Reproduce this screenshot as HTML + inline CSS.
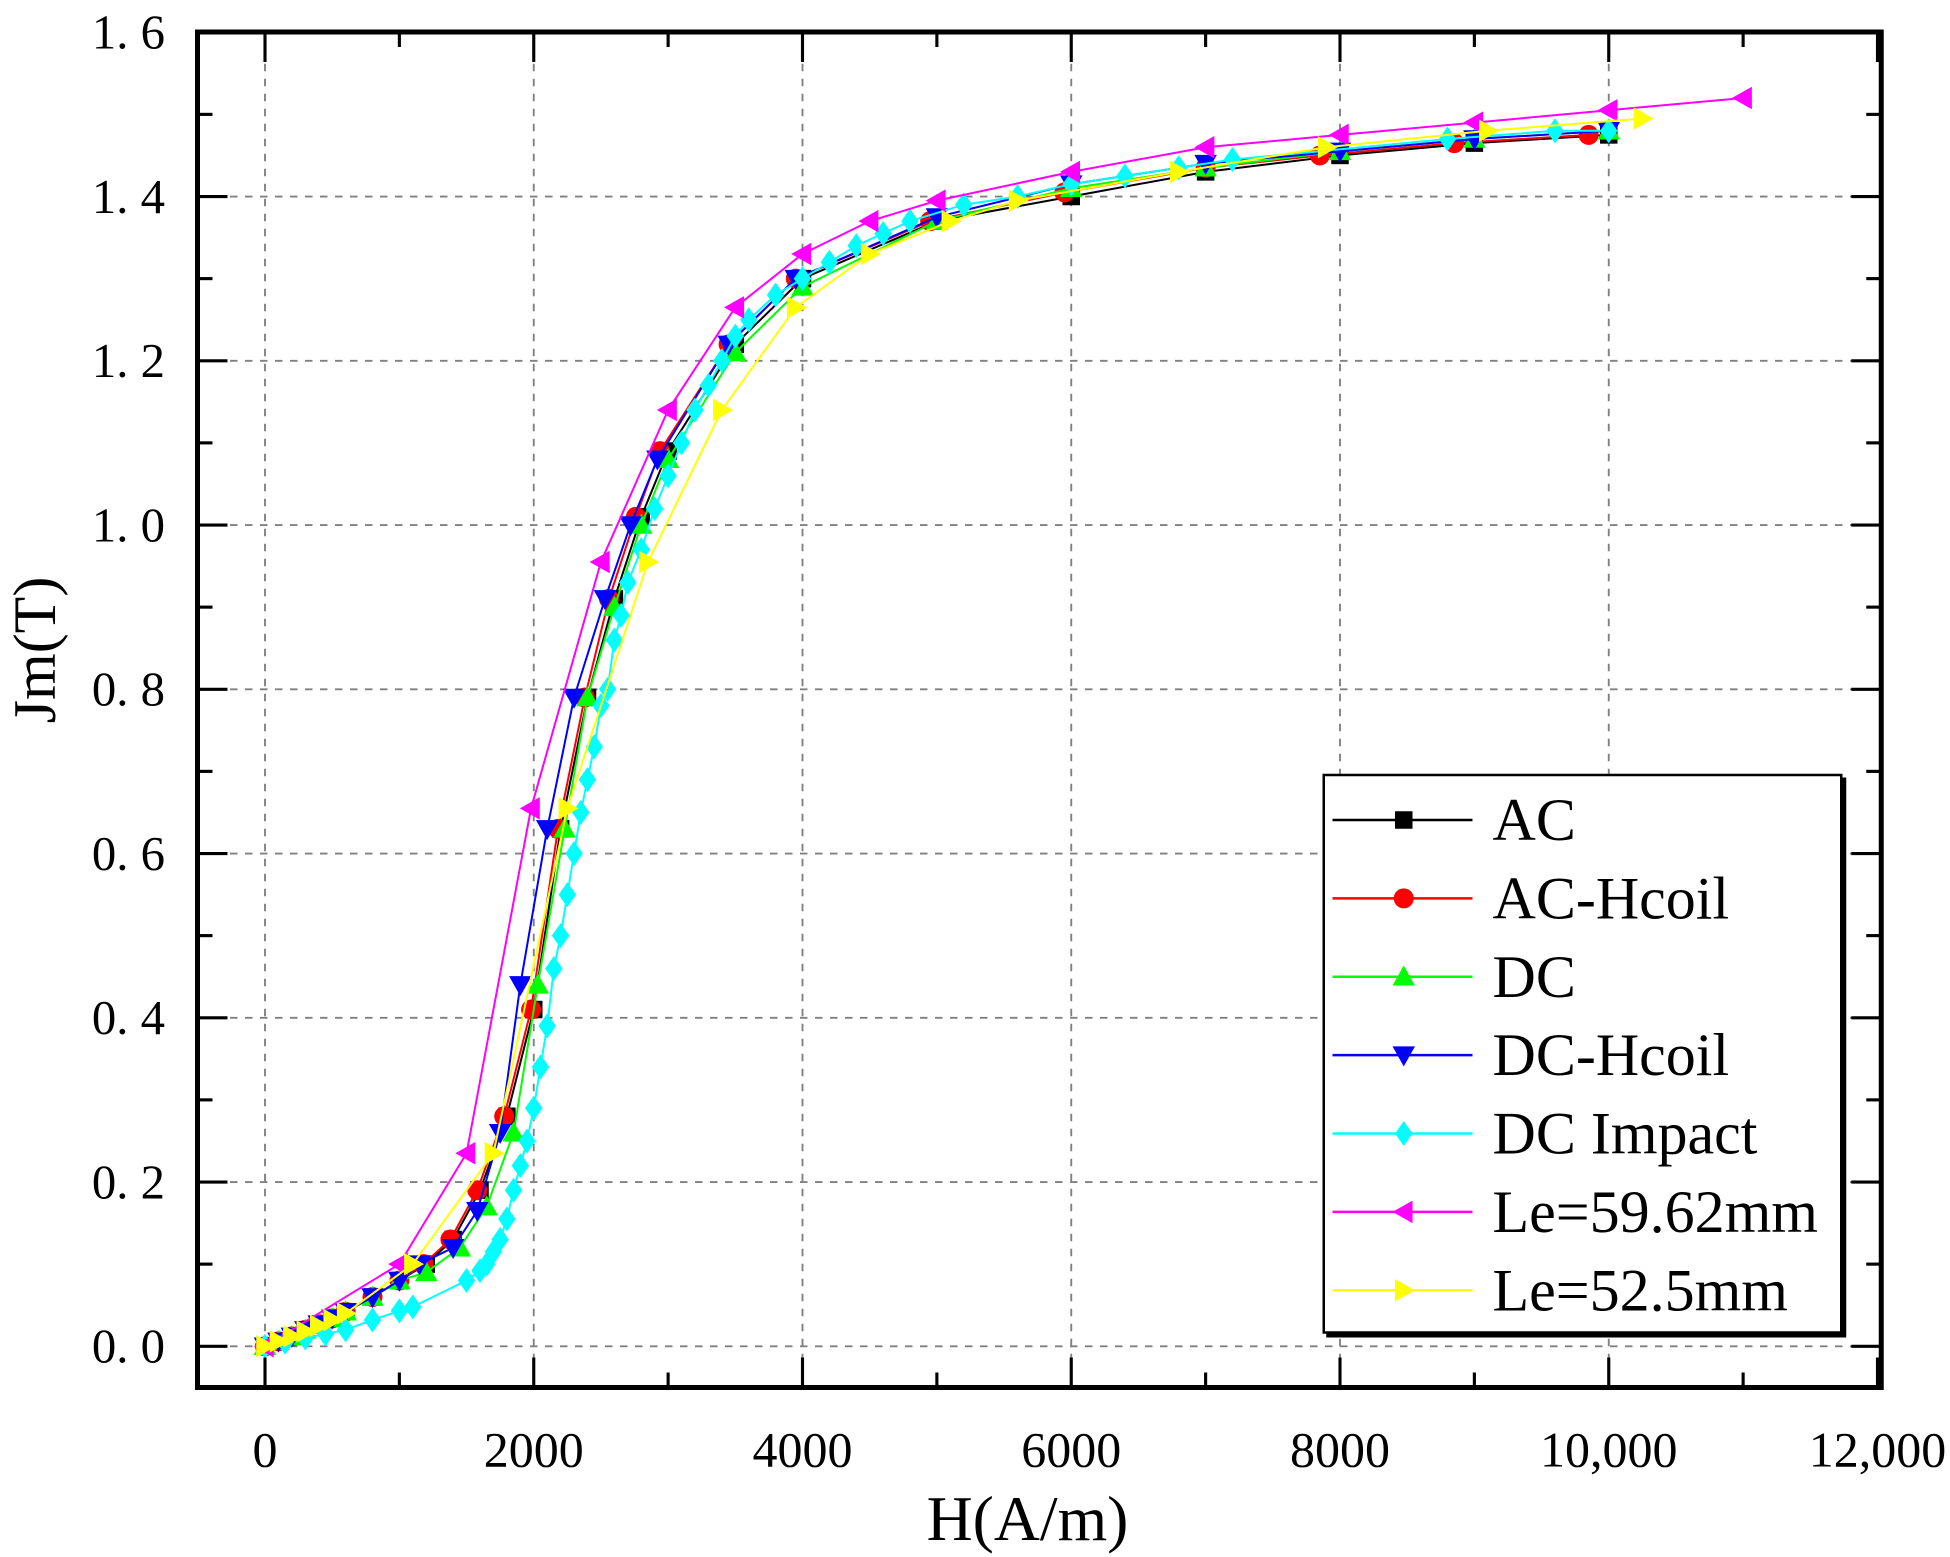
<!DOCTYPE html>
<html><head><meta charset="utf-8"><style>
html,body{margin:0;padding:0;background:#fff;width:1950px;height:1557px;overflow:hidden}
svg{display:block}
text{font-family:"Liberation Serif",serif;fill:#000}
</style></head><body>
<svg id="s" width="1950" height="1557" viewBox="0 0 1560 1245.6" xmlns="http://www.w3.org/2000/svg">
<rect x="0" y="0" width="1560" height="1245.6" fill="#fff"/>
<g id="grid"></g>
<g id="series"></g>
<rect x="158" y="25.6" width="1347" height="1084.4" fill="none" stroke="#000" stroke-width="4"/>
<g id="ticks"></g>
<g id="legend"></g>
<text x="822" y="1232" font-size="51" text-anchor="middle">H(A/m)</text>
<text transform="translate(44,520) rotate(-90)" font-size="48" text-anchor="middle">Jm(T)</text>
</svg>
<script>
var NS="http://www.w3.org/2000/svg";
function X(h){return 212+h*0.1075;}
function Y(j){return 1077-j*657;}
function el(p,t,a,txt){var e=document.createElementNS(NS,t);for(var k in a)e.setAttribute(k,a[k]);if(txt!==undefined)e.textContent=txt;document.getElementById(p).appendChild(e);return e;}
for(var h=0;h<=10000;h+=2000) el("grid","line",{x1:X(h),x2:X(h),y1:27,y2:1108,stroke:"#808080","stroke-width":1.5,"stroke-dasharray":"6,6"});
for(var j=0;j<=1.41;j+=0.2) el("grid","line",{x1:160,x2:1503,y1:Y(j),y2:Y(j),stroke:"#808080","stroke-width":1.5,"stroke-dasharray":"6,6"});
for(var h=0;h<=12000;h+=1000){var maj=h%2000==0,L=maj?24:12;
 el("ticks","line",{x1:X(h),x2:X(h),y1:1110,y2:1110-L,stroke:"#000","stroke-width":2.5});
 el("ticks","line",{x1:X(h),x2:X(h),y1:25.6,y2:25.6+L,stroke:"#000","stroke-width":2.5});
 if(maj){var lab=h>=10000?(h/1000)+",000":String(h);el("ticks","text",{x:X(h),y:1173,"font-size":40,"text-anchor":"middle"},lab);}}
for(var k=0;k<=16;k++){var j=k*0.1,maj=k%2==0,L=maj?24:12;
 el("ticks","line",{x1:158,x2:158+L,y1:Y(j),y2:Y(j),stroke:"#000","stroke-width":2.5});
 el("ticks","line",{x1:1505,x2:1505-L,y1:Y(j),y2:Y(j),stroke:"#000","stroke-width":2.5});
 if(maj){el("ticks","text",{x:132,y:Y(j)+13,"font-size":39,"text-anchor":"end"},(k/10).toFixed(1).replace(".",". "));}}
function marker(p,type,x,y,c){var s=7;
 if(type=="sq")el(p,"rect",{x:x-s,y:y-s,width:2*s,height:2*s,fill:c});
 else if(type=="ci")el(p,"circle",{cx:x,cy:y,r:s+1,fill:c});
 else if(type=="up")el(p,"polygon",{points:[x,y-s-2,x-s-2,y+s,x+s+2,y+s].join(","),fill:c});
 else if(type=="dn")el(p,"polygon",{points:[x,y+s+2,x-s-2,y-s,x+s+2,y-s].join(","),fill:c});
 else if(type=="di")el(p,"polygon",{points:[x,y-s-3,x-s,y,x,y+s+3,x+s,y].join(","),fill:c});
 else if(type=="lt")el(p,"polygon",{points:[x-s-2,y,x+s,y-s-2,x+s,y+s+2].join(","),fill:c});
 else if(type=="rt")el(p,"polygon",{points:[x+s+2,y,x-s,y-s-2,x-s,y+s+2].join(","),fill:c});}
var low=[[0,0],[100,0.006],[200,0.012],[300,0.02],[400,0.027],[500,0.034],[600,0.042],[800,0.06],[1000,0.08]];
var S=[
["AC","#000","sq",low.concat([[1200,0.1],[1400,0.13],[1600,0.19],[1800,0.28],[2000,0.41],[2200,0.63],[2400,0.79],[2600,0.91],[2800,1.01],[3000,1.09],[3500,1.22],[4000,1.3],[5000,1.37],[6000,1.4],[7000,1.43],[8000,1.45],[9000,1.465],[10000,1.475]])],
["AC-Hcoil","#f00","ci",low.concat([[1180,0.1],[1380,0.13],[1580,0.19],[1780,0.28],[1980,0.41],[2180,0.63],[2380,0.79],[2560,0.91],[2760,1.01],[2940,1.09],[3450,1.22],[3950,1.3],[4950,1.37],[5950,1.405],[7000,1.435],[7850,1.45],[8850,1.465],[9850,1.475]])],
["DC","#0f0","up",low.concat([[1200,0.09],[1450,0.12],[1650,0.17],[1850,0.26],[2030,0.44],[2230,0.63],[2400,0.79],[2600,0.9],[2800,1.0],[3000,1.08],[3500,1.21],[4000,1.29],[5000,1.37],[6000,1.41],[7000,1.435],[8000,1.455],[9000,1.47],[10000,1.48]])],
["DC-Hcoil","#00f","dn",low.concat([[1150,0.1],[1400,0.12],[1580,0.165],[1750,0.26],[1900,0.44],[2100,0.63],[2300,0.79],[2530,0.91],[2720,1.0],[2920,1.08],[3450,1.22],[3950,1.3],[5000,1.375],[6000,1.415],[7000,1.44],[8000,1.455],[9000,1.47],[10000,1.48]])],
["DC Impact","#0ff","di",[[0,0],[150,0.005],[300,0.01],[450,0.015],[600,0.02],[800,0.032],[1000,0.043],[1100,0.048],[1500,0.08],[1600,0.092],[1650,0.1],[1700,0.115],[1750,0.13],[1800,0.155],[1850,0.19],[1900,0.22],[1950,0.25],[2000,0.29],[2050,0.34],[2100,0.39],[2150,0.46],[2200,0.5],[2250,0.55],[2300,0.6],[2350,0.65],[2400,0.69],[2450,0.73],[2500,0.78],[2550,0.8],[2600,0.86],[2650,0.89],[2700,0.93],[2800,0.97],[2900,1.02],[3000,1.06],[3100,1.1],[3200,1.14],[3300,1.17],[3400,1.2],[3500,1.23],[3600,1.25],[3800,1.28],[4000,1.3],[4200,1.32],[4400,1.34],[4600,1.355],[4800,1.37],[5200,1.39],[5600,1.4],[6000,1.415],[6400,1.425],[6800,1.435],[7200,1.445],[8800,1.47],[9600,1.48],[10000,1.48]]],
["Le=59.62mm","#f0f","lt",[[0,0],[1000,0.1],[1500,0.235],[1980,0.655],[2500,0.955],[3000,1.14],[3500,1.265],[4000,1.33],[4500,1.37],[5000,1.395],[6000,1.43],[7000,1.46],[8000,1.475],[9000,1.49],[10000,1.505],[11000,1.52]]],
["Le=52.5mm","#ff0","rt",[[0,0],[100,0.006],[200,0.012],[300,0.018],[400,0.025],[500,0.032],[600,0.04],[1100,0.1],[1700,0.235],[2250,0.655],[2850,0.955],[3400,1.14],[3950,1.265],[4500,1.33],[5100,1.37],[5600,1.395],[6800,1.43],[7900,1.46],[9100,1.48],[10250,1.495]]]
];
S.forEach(function(s){
 el("series","polyline",{points:s[3].map(function(p){return X(p[0])+","+Y(p[1]);}).join(" "),fill:"none",stroke:s[1],"stroke-width":1.6});
 s[3].forEach(function(p){marker("series",s[2],X(p[0]),Y(p[1]),s[1]);});
});
el("legend","rect",{x:1061,y:622,width:416,height:448,fill:"#000"});
el("legend","rect",{x:1059,y:620,width:414,height:446,fill:"#fff",stroke:"#000","stroke-width":2});
S.forEach(function(s,i){var y=656+i*62.7;
 el("legend","line",{x1:1066,x2:1178,y1:y,y2:y,stroke:s[1],"stroke-width":2});
 marker("legend",s[2],1123,y,s[1]);
 el("legend","text",{x:1194,y:y+16,"font-size":48},s[0]);});
</script>
</body></html>
